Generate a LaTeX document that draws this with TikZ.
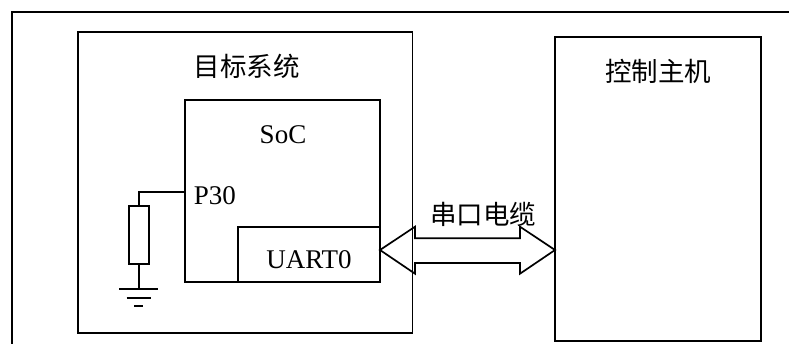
\documentclass[tikz,border=0pt]{standalone}
\usepackage{fontspec}
\setmainfont{Liberation Serif}
\newfontfamily\cjk{Noto Sans CJK SC}
\begin{document}
\begin{tikzpicture}[x=1pt,y=-1pt,
  line width=1.7pt,
  box/.style={draw,line width=1.7pt},
  lbl/.style={inner sep=0pt,font=\fontsize{27}{30}\selectfont},
  cjklbl/.style={inner sep=0pt,font=\fontsize{26.5}{30}\selectfont\cjk}]
\useasboundingbox (0,0) rectangle (789,343);
% outer frame (cropped)
\draw (12,345) -- (12,12) -- (791,12);
% target system
\draw[box] (78,32) rectangle (412.5,333);
\node[cjklbl] (tgt) at (246.5,66) {目标系统};
% SoC
\draw[box] (185,100) rectangle (380,282);
\node[lbl,anchor=base] (soc) at (283,143.3) {SoC};
\node[lbl,anchor=base west] (p30) at (193,204) {P30};
% UART0
\draw[box] (237.7,227) rectangle (380,282);
\node[lbl,anchor=base] (uart) at (309,268.3) {UART0};
% host
\draw[box] (555,36.7) rectangle (760.7,340.7);
\node[cjklbl] (host) at (658,71) {控制主机};
% resistor and ground
\coordinate (pin) at (185,191.7);
\coordinate (rtop) at (139.3,205.7);
\coordinate (rbot) at (139.3,264);
\coordinate (gnd) at (139.3,289.3);
\draw (pin) -- (139.3,191.7) -- (rtop);
\draw[box] (129.3,205.7) rectangle (149.3,264);
\draw (rbot) -- (gnd);
\draw (119.3,289.3) -- (158.3,289.3);
\draw (126.7,298) -- (151,298);
\draw (134,306) -- (143.3,306);
% double arrow
\coordinate (la) at (380,250);
\coordinate (ra) at (555,250);
\draw[line join=miter] (la) -- ++(35,-23.3) -- ++(0,11.6) -- ++(105,0) -- ++(0,-11.6)
  -- (ra) -- ++(-35,23.7) -- ++(0,-10.7) -- ++(-105,0) -- ++(0,10.7) -- cycle;
\node[cjklbl] (cable) at (483,214) {串口电缆};
\end{tikzpicture}
\end{document}
